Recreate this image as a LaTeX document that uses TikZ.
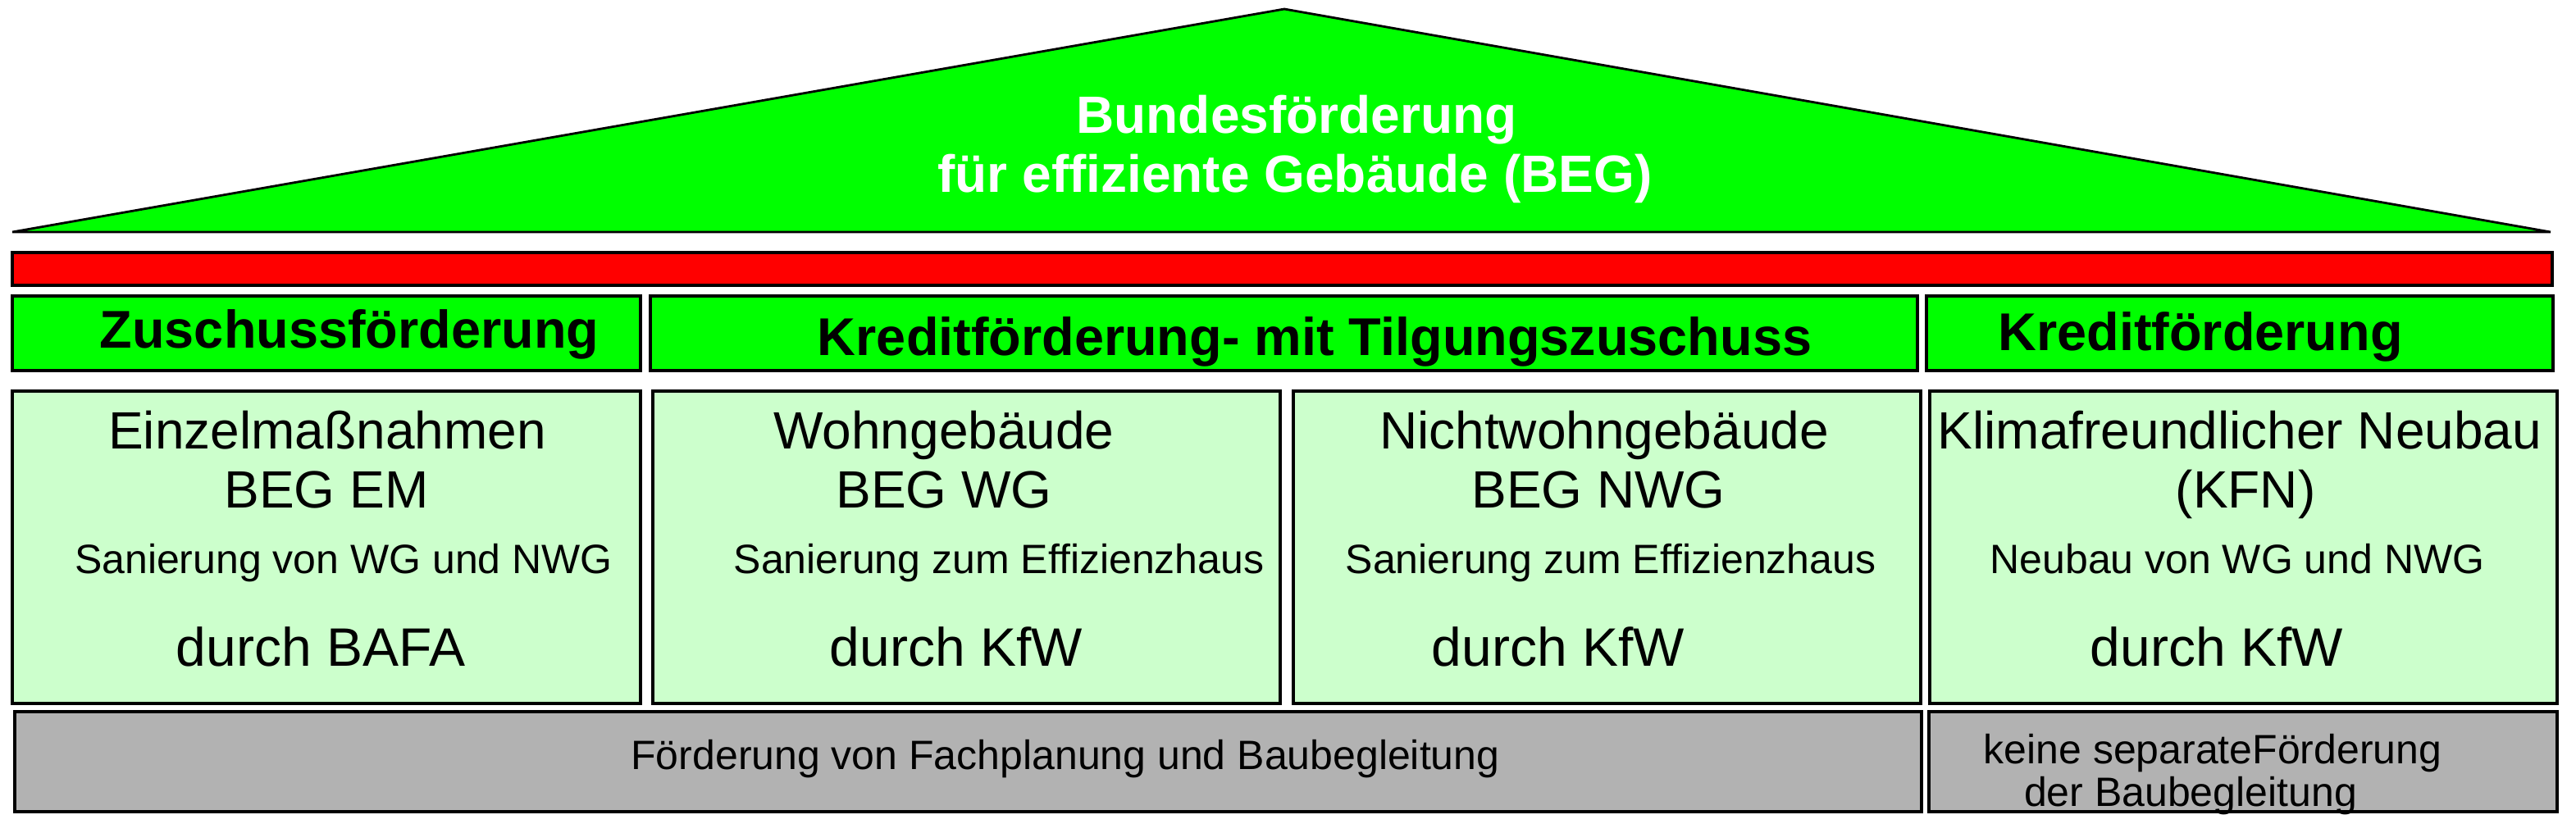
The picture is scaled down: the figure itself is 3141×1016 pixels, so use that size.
\documentclass[tikz,border=0pt]{standalone}
\usepackage{fontspec}
\setmainfont{Liberation Sans}
\definecolor{roofgreen}{RGB}{0,255,0}
\definecolor{barred}{RGB}{255,0,0}
\definecolor{palegreen}{RGB}{204,255,204}
\definecolor{boxgray}{RGB}{178,178,178}
\tikzset{
  roof/.style={draw=black, fill=roofgreen, line width=0.7pt, line join=miter},
  hdr/.style={draw=black, fill=roofgreen, line width=0.8pt},
  bar/.style={draw=black, fill=barred, line width=0.8pt},
  prog/.style={draw=black, fill=palegreen, line width=0.8pt},
  foot/.style={draw=black, fill=boxgray, line width=0.8pt},
  title/.style={anchor=base, inner sep=0pt, text=white, font=\fontsize{16}{18}\selectfont\bfseries},
  head/.style={anchor=base, inner sep=0pt, font=\fontsize{16.2}{18}\selectfont\bfseries},
  big/.style={anchor=base, inner sep=0pt, font=\fontsize{16}{18}\selectfont},
  agency/.style={anchor=base, inner sep=0pt, font=\fontsize{16.5}{18}\selectfont},
  small/.style={anchor=base, inner sep=0pt, font=\fontsize{12.5}{14}\selectfont}
}
\begin{document}
\begin{tikzpicture}[x=0.25pt,y=-0.25pt]
\useasboundingbox (0,0) rectangle (3141,1016);
% roof
\draw[roof] (15,283) -- (1566,11) -- (3110,283) -- cycle;
\node[title] (t1) at (1581,163) {Bundesförderung};
\node[title] (t2) at (1579,235) {für effiziente Gebäude (BEG)};
\draw[bar] (15,308) rectangle (3112,348);
% headers
\draw[hdr] (15,361) rectangle (781,452);
\draw[hdr] (793,361) rectangle (2338,452);
\draw[hdr] (2349,361) rectangle (3113,452);
\node[head] (h1) at (426,425) {Zuschussförderung};
\node[head] (h2) at (1603,434) {Kreditförderung- mit Tilgungszuschuss};
\node[head] (h3) at (2683,427) {Kreditförderung};
% programmes
\draw[prog] (15,477) rectangle (781,858);
\draw[prog] (796,477) rectangle (1561,858);
\draw[prog] (1577,477) rectangle (2342,858);
\draw[prog] (2353,477) rectangle (3118,858);
\node[big] (em1) at (399,547) {Einzelmaßnahmen};
\node[big] (em2) at (398,619) {BEG EM};
\node[small] (em3) at (419,700) {Sanierung von WG und NWG};
\node[agency] (em4) at (391,812) {durch BAFA};
\node[big] (wg1) at (1151,547) {Wohngebäude};
\node[big] (wg2) at (1151,619) {BEG WG};
\node[small] (wg3) at (1218,700) {Sanierung zum Effizienzhaus};
\node[agency] (wg4) at (1166,812) {durch KfW};
\node[big] (nwg1) at (1956,547) {Nichtwohngebäude};
\node[big] (nwg2) at (1949,619) {BEG NWG};
\node[small] (nwg3) at (1964,700) {Sanierung zum Effizienzhaus};
\node[agency] (nwg4) at (1900,812) {durch KfW};
\node[big] (kfn1) at (2731,547) {Klimafreundlicher Neubau};
\node[big] (kfn2) at (2738,619) {(KFN)};
\node[small] (kfn3) at (2728,700) {Neubau von WG und NWG};
\node[agency] (kfn4) at (2703,812) {durch KfW};
% bottom row
\draw[foot] (18,868) rectangle (2343,990);
\draw[foot] (2352,868) rectangle (3118,990);
\node[small] (f1) at (1299,938) {Förderung von Fachplanung und Baubegleitung};
\node[small] (f2) at (2698,931) {keine separateFörderung};
\node[small] (f3) at (2671,983) {der Baubegleitung};
\end{tikzpicture}
\end{document}
